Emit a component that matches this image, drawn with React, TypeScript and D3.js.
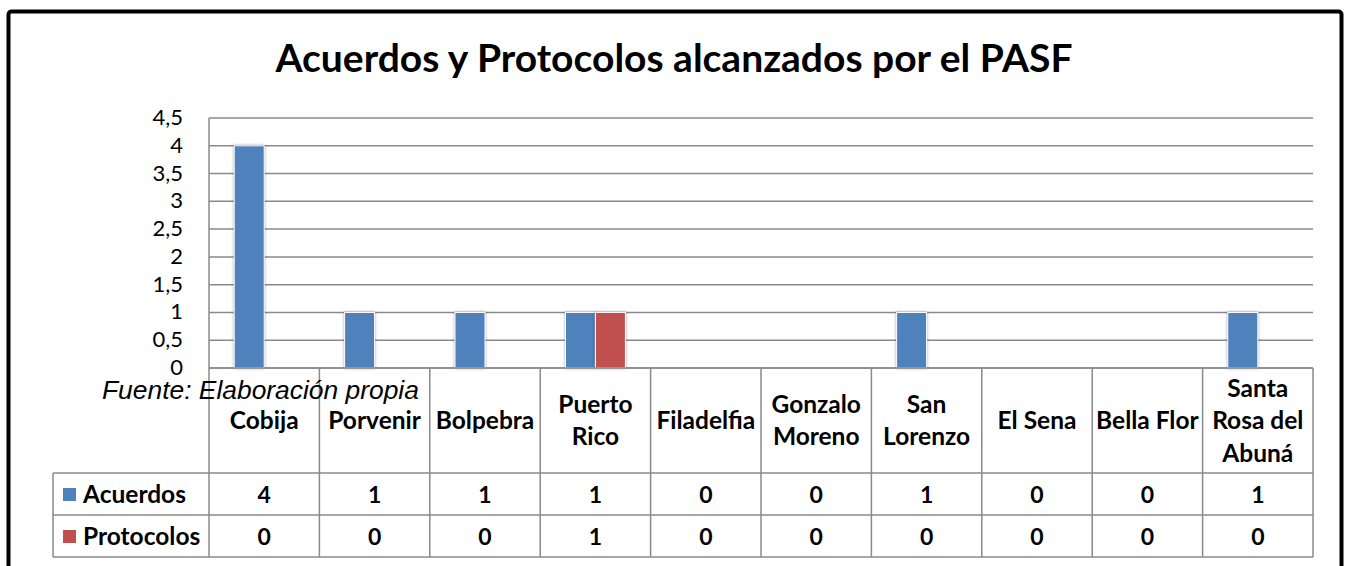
import React, { useEffect, useRef } from 'react';
import * as d3 from 'd3';

// chart data
const categories = ['Cobija', 'Porvenir', 'Bolpebra', 'Puerto Rico', 'Filadelfia', 'Gonzalo Moreno', 'San Lorenzo', 'El Sena', 'Bella Flor', 'Santa Rosa del Abuná'];
// how the header cells wrap
const categoryLines = [['Cobija'], ['Porvenir'], ['Bolpebra'], ['Puerto', 'Rico'], ['Filadelfia'], ['Gonzalo', 'Moreno'], ['San', 'Lorenzo'], ['El Sena'], ['Bella Flor'], ['Santa', 'Rosa del', 'Abuná']];
const seriesNames = ['Acuerdos', 'Protocolos'];
const acuerdos = [4, 1, 1, 1, 0, 0, 1, 0, 0, 1];
const protocolos = [0, 0, 0, 1, 0, 0, 0, 0, 0, 0];
const yTicks = [0, 0.5, 1, 1.5, 2, 2.5, 3, 3.5, 4, 4.5];
const colors = ['#4F81BD', '#C0504D'];

const title = 'Acuerdos y Protocolos alcanzados por el PASF';
const source = 'Fuente: Elaboración propia';

const W = 1351;
const H = 566;

const App = () => {
  const ref = useRef<SVGSVGElement>(null);

  useEffect(() => {
    const svg = d3.select(ref.current);
    svg.selectAll('*').remove();

    const values = [acuerdos, protocolos];
    const left = 209;
    const right = 1313;
    const plotTop = 118;
    const plotBottom = 368;
    const headerBottom = 473;
    const rowH = 42;
    const legendLeft = 53;
    const gridColor = '#8a8a8a';
    const bodyFont = 'Lato, "Open Sans", sans-serif';

    const fmt = d3.formatLocale({ decimal: ',', thousands: '.', grouping: [3], currency: ['', ''] }).format('~g');

    const x = d3.scaleBand<string>().domain(categories).range([left, right]).paddingInner(0).paddingOuter(0);
    const bw = x.bandwidth();
    const xs = d3.scaleBand<string>().domain(seriesNames).range([bw / 2 - 30, bw / 2 + 30]);
    const y = d3.scaleLinear().domain([0, 4.5]).range([plotBottom, plotTop]);

    // outer frame
    svg.append('rect')
      .attr('x', 8.5).attr('y', 11.5)
      .attr('width', 1333).attr('height', 620)
      .attr('rx', 3)
      .attr('fill', '#fff').attr('stroke', '#000').attr('stroke-width', 4);

    svg.append('text')
      .attr('x', 674).attr('y', 72)
      .attr('text-anchor', 'middle')
      .attr('font-family', bodyFont).attr('font-weight', 700).attr('font-size', 39)
      .text(title);

    // gridlines
    svg.append('g').selectAll('line').data(yTicks).enter().append('line')
      .attr('x1', left).attr('x2', right)
      .attr('y1', (d) => y(d)).attr('y2', (d) => y(d))
      .attr('stroke', gridColor).attr('stroke-width', 1.5);

    svg.append('line')
      .attr('x1', left).attr('x2', left).attr('y1', plotTop).attr('y2', plotBottom)
      .attr('stroke', gridColor).attr('stroke-width', 1.5);

    svg.append('g').selectAll('text').data(yTicks).enter().append('text')
      .attr('x', 183).attr('y', (d) => y(d) + 7)
      .attr('text-anchor', 'end')
      .attr('font-family', bodyFont).attr('font-size', 22)
      .text((d) => fmt(d));

    // bars
    seriesNames.forEach((s, si) => {
      svg.append('g').selectAll('rect').data(categories).enter().append('rect')
        .attr('x', (c) => (x(c) as number) + (xs(s) as number))
        .attr('y', (c, i) => y(values[si][i]))
        .attr('width', xs.bandwidth())
        .attr('height', (c, i) => plotBottom - y(values[si][i]))
        .attr('fill', colors[si])
        .attr('stroke', '#fff').attr('stroke-width', 1)
        .style('filter', 'drop-shadow(0px 0px 1.5px rgba(0,0,0,0.35))');
    });

    // data table
    const table = svg.append('g').attr('stroke', gridColor).attr('stroke-width', 1.5);
    table.append('line').attr('x1', left).attr('x2', right).attr('y1', plotBottom).attr('y2', plotBottom);
    [0, 1, 2].forEach((r) => {
      const yy = headerBottom + r * rowH;
      table.append('line').attr('x1', legendLeft).attr('x2', right).attr('y1', yy).attr('y2', yy);
    });
    table.append('line').attr('x1', legendLeft).attr('x2', legendLeft).attr('y1', headerBottom).attr('y2', headerBottom + 2 * rowH);
    d3.range(categories.length + 1).forEach((i) => {
      const xx = left + i * bw;
      table.append('line').attr('x1', xx).attr('x2', xx).attr('y1', plotBottom).attr('y2', headerBottom + 2 * rowH);
    });

    // header labels
    const lineH = 32.5;
    categories.forEach((c, i) => {
      const lines = categoryLines[i];
      const cx = (x(c) as number) + bw / 2;
      const y0 = 429 - ((lines.length - 1) * lineH) / 2;
      svg.append('text')
        .attr('text-anchor', 'middle')
        .attr('font-family', bodyFont).attr('font-weight', 700).attr('font-size', 24.5)
        .selectAll('tspan').data(lines).enter().append('tspan')
        .attr('x', cx).attr('y', (d, k) => y0 + k * lineH)
        .text((d) => d);
    });

    // legend + values
    seriesNames.forEach((s, si) => {
      const rowTop = headerBottom + si * rowH;
      svg.append('rect')
        .attr('x', 63).attr('y', rowTop + 15)
        .attr('width', 13).attr('height', 13)
        .attr('fill', colors[si]);
      svg.append('text')
        .attr('x', 83).attr('y', rowTop + 30)
        .attr('font-family', bodyFont).attr('font-weight', 700).attr('font-size', 24.5)
        .text(s);
      svg.append('g').selectAll('text').data(values[si]).enter().append('text')
        .attr('x', (d, i) => (x(categories[i]) as number) + bw / 2)
        .attr('y', rowTop + 30)
        .attr('text-anchor', 'middle')
        .attr('font-family', bodyFont).attr('font-weight', 700).attr('font-size', 23)
        .text((d) => d);
    });

    svg.append('text')
      .attr('x', 102).attr('y', 399)
      .attr('font-family', '"Liberation Sans", Arial, sans-serif')
      .attr('font-style', 'italic').attr('font-size', 26.4)
      .text(source);
  }, []);

  return (
    <div style={{ position: 'absolute', left: 0, top: 0 }}>
      <svg ref={ref} width={W} height={H} style={{ display: 'block' }} />
    </div>
  );
};

export default App;
